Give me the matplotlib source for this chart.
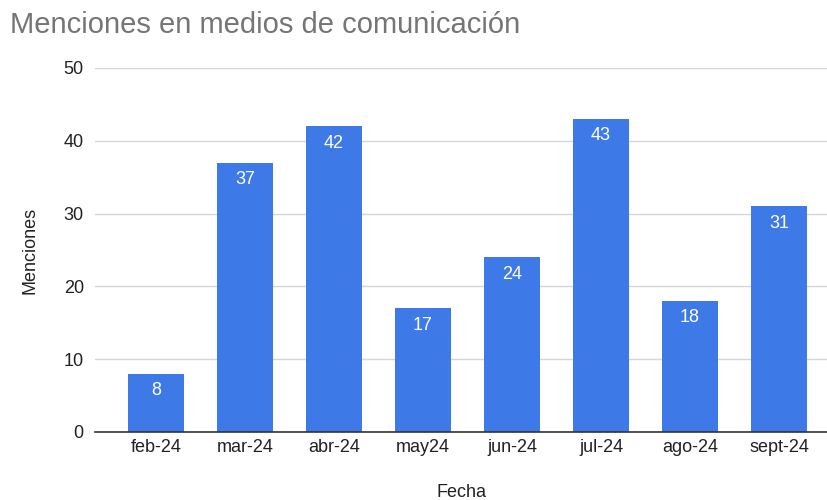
import matplotlib
matplotlib.use("Agg")
import matplotlib.pyplot as plt
import numpy as np

plt.rcParams['font.family'] = ['Liberation Sans', 'DejaVu Sans']

meses = ["feb-24", "mar-24", "abr-24", "may24", "jun-24", "jul-24", "ago-24", "sept-24"]
menciones = [8, 37, 42, 17, 24, 43, 18, 31]
y_ticks = [0, 10, 20, 30, 40, 50]

bar_color = "#3d7ae8"
fs = 13

fig = plt.figure(figsize=(8.28, 5.0), dpi=100)
ax = fig.add_axes([0.1147, 0.136, 0.8853, 0.728])

x = np.arange(len(meses))
bars = ax.bar(x, menciones, width=0.63, color=bar_color, zorder=3)

for b, v in zip(bars, menciones):
    ax.annotate(str(v), (b.get_x() + b.get_width() / 2, v), xytext=(0, -6),
                textcoords="offset points", ha="center", va="top",
                color="white", fontsize=fs, zorder=4)

ax.set_xlim(-0.685, 7.55)
ax.set_ylim(0, 50)
ax.set_xticks(x)
ax.set_xticklabels(meses)
ax.set_yticks(y_ticks)
ax.tick_params(axis="both", length=0, labelsize=fs, labelcolor="#222222")
ax.tick_params(axis="x", pad=5)
ax.tick_params(axis="y", pad=8)
ax.grid(axis="y", color="#d6d6d6", linewidth=1, zorder=0)
for s in ["top", "right", "left"]:
    ax.spines[s].set_visible(False)
ax.spines["bottom"].set_color("#333333")
ax.spines["bottom"].set_linewidth(1.2)
ax.spines["bottom"].set_zorder(5)

ax.set_xlabel("Fecha", fontsize=fs, color="#222222", labelpad=20)
ax.set_ylabel("Menciones", fontsize=fs, color="#222222", labelpad=18)

fig.text(0.012, 0.95, "Menciones en medios de comunicación", fontsize=21,
         color="#757575", ha="left", va="center")

fig.savefig("out.png", dpi=100)
